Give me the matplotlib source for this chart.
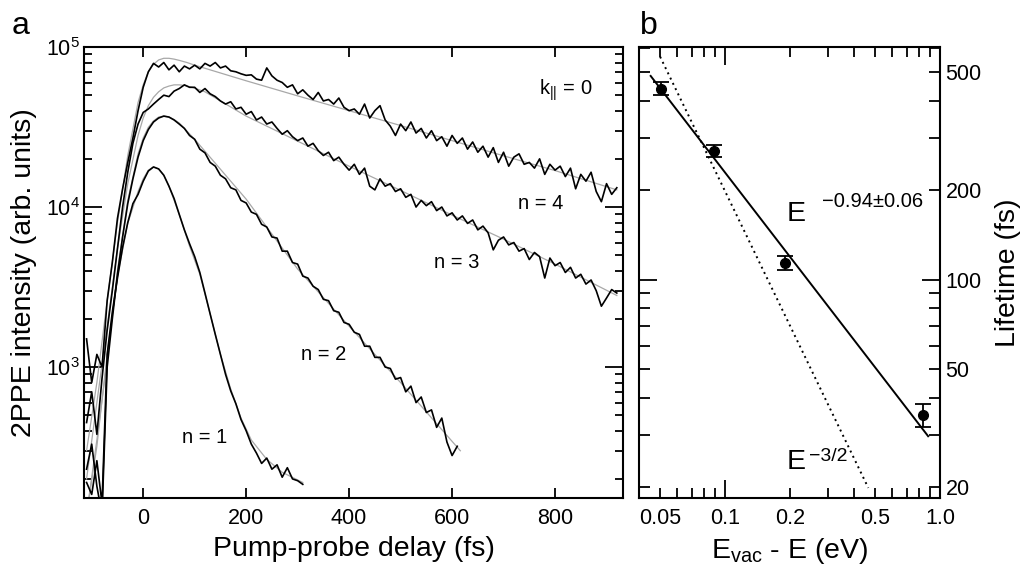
import numpy as np
import matplotlib
matplotlib.use("Agg")
import matplotlib.pyplot as plt
from matplotlib.ticker import NullFormatter

plt.rcParams['font.family'] = ['Liberation Sans', 'DejaVu Sans']
plt.rcParams['mathtext.fontset'] = 'custom'
plt.rcParams['mathtext.rm'] = 'Liberation Sans'
plt.rcParams['mathtext.it'] = 'Liberation Sans:italic'
plt.rcParams['mathtext.default'] = 'regular'

# ---- panel a: 2PPE traces, sampled every 10 fs from -110 fs ----
t_start = -110
dt = 10

n4 = [1500, 800, 1200, 1000, 2600, 4500, 8500, 13000, 19000, 27000, 40000,
      56000, 70000, 79000, 75000, 80000, 72000, 77000, 70000, 76000, 73000,
      77000, 73000, 79000, 76000, 80000, 74000, 76000, 71000, 70000, 68000,
      66500, 67000, 63000, 62000, 74000, 66000, 62000, 60000, 56000, 58000,
      51000, 54000, 50000, 47000, 52000, 46000, 47000, 44000, 48000, 42000,
      40000, 41000, 38000, 44000, 36000, 40000, 43000, 35000, 32000, 28000,
      33000, 30000, 34000, 29000, 31000, 27000, 30000, 26000, 27500, 24000,
      28000, 25000, 27000, 23000, 25500, 22000, 24000, 20500, 23500, 19000,
      22000, 18000, 20500, 21500, 18500, 19000, 17500, 20000, 16000, 18500,
      17000, 18000, 15500, 17500, 13000, 16000, 14500, 16500, 12500, 10800,
      14000, 12000, 13200]

n3 = [450, 700, 380, 850, 1700, 3000, 5500, 10000, 16500, 25000, 33000,
      39000, 41000, 44000, 47000, 50000, 49000, 53000, 55000, 58000, 56000,
      56000, 52000, 55000, 51000, 49000, 46000, 44000, 45500, 41000, 42000,
      38000, 39500, 35000, 36500, 33000, 34000, 31000, 28500, 30000, 27500,
      26000, 27000, 24000, 25000, 22500, 21000, 22000, 19500, 20500, 18500,
      17000, 18500, 16000, 17500, 13500, 12800, 15000, 13500, 14000, 12500,
      13000, 11500, 12000, 10000, 11000, 10200, 10800, 9500, 10000, 8800,
      9200, 8300, 8800, 7900, 8300, 7200, 7600, 6900, 5400, 6200,
      6500, 5800, 6000, 5300, 5500, 4700, 5200, 4900, 3600, 4800,
      4300, 4500, 3900, 4200, 3600, 3800, 3300, 3500, 3000, 2400,
      2700, 3050, 2900]

n2 = [230, 330, 180, 120, 1000, 2000, 3800, 6500, 10500, 15000, 20500,
      26000, 30500, 34000, 36000, 37000, 36500, 35000, 33000, 31000, 28000,
      26500, 23000, 21800, 19000, 18000, 15800, 15000, 13200, 12800, 11000,
      10600, 9300, 9000, 7800, 7500, 6500, 6400, 5300, 5300, 4500,
      4400, 3700, 3600, 3200, 3050, 2650, 2600, 2250, 2200, 1900,
      1850, 1650, 1600, 1350, 1350, 1150, 1150, 1000, 980, 840,
      860, 700, 760, 600, 650, 520, 540, 420, 480, 340,
      280, 320]

n1 = [190, 160, 260, 140, 1200, 2200, 3600, 5600, 8000, 10500, 12000,
      14500, 16800, 17800, 17300, 15800, 13500, 11300, 9000, 7200, 5900,
      4900, 3900, 2900, 2150, 1600, 1200, 900, 710, 590, 470,
      400, 330, 290, 250, 270, 230, 245, 205, 235, 200,
      195, 185]

# grey fit curves (delay, intensity)
fit4_t = [-110, -90, -70, -50, -30, -10, 0, 10, 20, 30, 40, 50, 60, 70, 85, 100,
          200, 300, 400, 500, 600, 700, 800, 920]
fit4_y = [300, 800, 2600, 8000, 21000, 45000, 58000, 70000, 78000, 83000, 85000,
          85000, 84000, 82500, 80000, 77000, 61500, 49500, 40000, 32300, 26000,
          20900, 16900, 12800]
fit3_t = [-110, -90, -70, -50, -30, -10, 0, 10, 20, 30, 40, 50, 60, 70, 80, 95,
          120, 200, 300, 400, 500, 600, 700, 800, 920]
fit3_y = [200, 600, 1800, 5500, 14000, 28000, 36000, 43000, 48500, 52500, 55500,
          57000, 58000, 58000, 57500, 56000, 52500, 37000, 25800, 18000, 12700,
          8900, 6300, 4400, 2800]
fit2_t = [-110, -90, -70, -50, -30, -10, 0, 10, 20, 30, 40, 50, 60, 70, 100, 200,
          300, 400, 500, 616]
fit2_y = [120, 350, 1100, 4000, 11000, 21500, 27000, 31500, 34500, 36500, 37000,
          36500, 35200, 33500, 26500, 11200, 4100, 1800, 800, 300]
fit1_t = [-110, -90, -70, -50, -30, -10, 0, 10, 20, 30, 40, 50, 70, 90, 110, 130,
          150, 170, 190, 210, 240, 270, 310]
fit1_y = [120, 320, 1200, 3700, 7900, 12500, 15000, 17000, 17800, 17300, 15800,
          13500, 9000, 5700, 3800, 2150, 1200, 730, 480, 350, 265, 220, 190]

labels_a = ["n = 1", "n = 2", "n = 3", "n = 4"]
label_pos_a = [(120, 365), (351, 1190), (609, 4530), (773, 10450)]

# ---- panel b: lifetimes ----
energy = [0.0505, 0.0892, 0.19, 0.831]
lifetime = [440, 271, 114, 35]
lifetime_err = [21, 12, 6, 3]
fit_e = [0.0451, 0.881]
fit_tau = [485, 29.7]
e32_e = [0.0499, 0.464]
e32_tau = [563, 19.9]

fig = plt.figure(figsize=(10.27, 5.74), dpi=100)
axa = fig.add_axes([84/1027, 76/574, 539/1027, 451/574])
axb = fig.add_axes([639/1027, 76/574, 301/1027, 451/574])

grey = '#a8a8a8'
for ft, fy in [(fit4_t, fit4_y), (fit3_t, fit3_y), (fit2_t, fit2_y), (fit1_t, fit1_y)]:
    axa.plot(ft, fy, color=grey, lw=0.9)
for y in [n4, n3, n2, n1]:
    tt = t_start + dt*np.arange(len(y))
    axa.plot(tt, y, color='black', lw=1.2)

axa.set_yscale('log')
axa.set_xlim(-115, 932)
axa.set_ylim(152, 1e5)
axa.set_xticks([0, 200, 400, 600, 800])
axa.yaxis.set_minor_formatter(NullFormatter())
axa.tick_params(axis='both', which='both', direction='in', top=True, right=True,
                labelsize=15.5, width=1.3)
axa.tick_params(axis='x', which='major', length=7.5, pad=7)
axa.tick_params(axis='y', which='major', length=13, pad=3)
axa.tick_params(axis='y', which='minor', length=5.5)
for s in axa.spines.values():
    s.set_linewidth(1.5)
axa.set_xlabel('Pump-probe delay (fs)', fontsize=20.5)
axa.set_ylabel('2PPE intensity (arb. units)', fontsize=20.5)
axa.xaxis.set_label_coords(0.5, -0.085)
axa.yaxis.set_label_coords(-0.087, 0.5)

for lab, (x, y) in zip(labels_a, label_pos_a):
    axa.text(x, y, lab, fontsize=14.5, ha='center', va='center')
axa.text(821, 53700, r'k$_{||}$ = 0', fontsize=14.5, ha='center', va='center')

# panel b
axb.errorbar(energy, lifetime, yerr=lifetime_err, fmt='o', color='black',
             ms=7, capsize=5.5, elinewidth=1.3, capthick=1.3)
axb.plot(fit_e, fit_tau, color='black', lw=1.4)
axb.plot(e32_e, e32_tau, color='black', lw=1.4, ls=(0, (1, 2)))
axb.set_xscale('log')
axb.set_yscale('log')
axb.set_xlim(0.0398, 1.0)
axb.set_ylim(18.4, 607)

xmaj = [0.1, 1.0]
xmin = [0.04, 0.05, 0.06, 0.07, 0.08, 0.09, 0.2, 0.3, 0.4, 0.5, 0.6, 0.7, 0.8, 0.9]
xmin_lab = ['', '0.05', '', '', '', '', '0.2', '', '', '0.5', '', '', '', '']
axb.set_xticks(xmaj, ['0.1', '1.0'])
axb.set_xticks(xmin, xmin_lab, minor=True)
ymaj = [100]
ymin = [20, 30, 40, 50, 60, 70, 80, 90, 200, 300, 400, 500, 600]
ymin_lab = ['20', '', '', '50', '', '', '', '', '200', '', '', '500', '']
axb.set_yticks(ymaj, ['100'])
axb.set_yticks(ymin, ymin_lab, minor=True)
axb.tick_params(axis='both', which='both', direction='in', top=True, right=True,
                left=True, labelleft=False, labelright=True, labelsize=15.5, width=1.3)
axb.tick_params(axis='x', which='major', length=13, pad=7)
axb.tick_params(axis='x', which='minor', length=7, pad=7)
axb.tick_params(axis='y', which='major', length=13, pad=4)
axb.tick_params(axis='y', which='minor', length=8, pad=4)
for s in axb.spines.values():
    s.set_linewidth(1.5)
axb.set_xlabel(r'E$_{vac}$ - E (eV)', fontsize=20.5)
axb.xaxis.set_label_coords(0.5, -0.085)
axb.yaxis.set_label_position('right')
axb.set_ylabel('Lifetime (fs)', fontsize=20.5)
axb.yaxis.set_label_coords(1.183, 0.5)

axb.text(0.194, 158, 'E', fontsize=20.5, ha='left', va='baseline')
axb.text(0.283, 176, '\u22120.94\u00b10.06', fontsize=14.5, ha='left', va='baseline')
axb.text(0.194, 23, 'E', fontsize=20.5, ha='left', va='baseline')
axb.text(0.245, 24.5, '\u22123/2', fontsize=14, ha='left', va='baseline')

fig.text(12/1027, 1 - 34/574, 'a', fontsize=23, ha='left', va='baseline')
fig.text(640/1027, 1 - 34/574, 'b', fontsize=23, ha='left', va='baseline')

fig.savefig('out.png', dpi=100)
